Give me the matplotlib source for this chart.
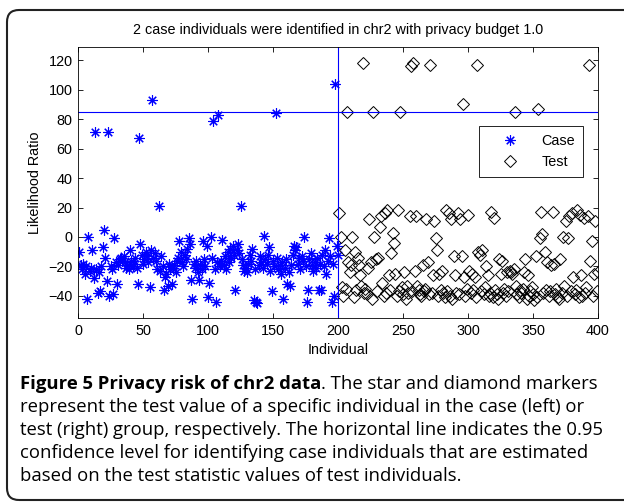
import matplotlib.pyplot as plt
from matplotlib.patches import FancyBboxPatch
from matplotlib.transforms import IdentityTransform

# likelihood ratio test values, one per individual
case_ids = list(range(1, 201))
case_lr = [
    -10, -19, -22, -18, -25, -20, -42, 0, -23, -21, -9, -28, 71, -22, -38, -24, -37, -20, -7, 5,
    -14, -30, 71, -40, -20, -22, -39, -1, -17, -32, -19, -15, -14, -16, -13, -17, -21, -19, -22, -9,
    -16, -20, -18, -14, -21, -32, 67, -5, -12, -18, -15, -10, -13, -17, -34, -9, 93, -14, -11, -16,
    -22, 21, -23, -13, -20, -36, -27, -25, -33, -18, -22, -32, -21, -19, -24, -16, -14, -3, -10, -17,
    -20, -12, -15, -8, -1, -5, -29, -42, -18, -21, -16, -24, -29, -19, -22, -3, -15, -20, -6, -41,
    -31, 0, -14, 79, -22, -44, -17, 83, -20, -16, -2, -19, -13, -22, -10, -17, -8, -14, -6, -12,
    -36, -9, -5, -11, 21, -15, -19, -23, -21, -24, -18, -12, -16, -8, -43, -22, -44, -45, -19, -13,
    -17, -21, 1, -15, -18, -12, -7, -23, -37, -16, -20, 84, -14, -22, -19, -25, -17, -42, -21, -15,
    -32, -24, -33, -19, -12, -6, -9, -7, -18, -14, -22, -13, -16, 0, -20, -44, -36, -15, -11, -19,
    -23, -17, -21, -14, -36, -18, -36, -12, -20, -9, -25, -16, -1, -13, -44, -18, -40, 104, -6, -12,
]

test_ids = list(range(201, 401))
test_lr = [
    16, 0, -34, -40, -9, -35, 85, -17, -24, -19, 0, -41, -10, -36, -14, -19, -26, -33, 118, -38,
    -35, -39, -21, 12, -17, -42, 85, 0, -15, -37, -14, 7, 14, -31, -40, 16, -38, 18, -26, -36,
    -11, 3, -4, -25, -40, 18, -37, 85, -34, -39, -24, -42, -33, -38, 14, 116, -37, 118, -23, 14,
    -33, -36, -39, -40, -19, -37, -35, 12, -17, -39, 117, -38, -26, 11, -1, -9, -40, -25, -36, -23,
    -38, -41, 18, -37, 16, -40, 12, -42, -13, -26, -38, 16, -39, 12, -13, 90, -27, -40, -35, 15,
    -23, -38, -25, -36, -27, -41, 117, -10, -12, -37, -9, -39, -34, -20, -26, -40, -38, 17, -41, 13,
    -36, -39, -42, -15, -25, -16, -38, -35, -40, -24, -37, -23, -24, -25, -22, 85, -33, -39, -41, -36,
    -38, -35, -24, -15, -42, -26, -40, -37, -34, -39, -43, -13, -41, 87, -1, 17, 2, -38, -10, -36,
    -17, -40, -37, -19, 17, -18, -39, -35, -41, -42, -15, -38, 0, -33, 11, -40, -1, 14, -37, 16,
    -27, -39, -36, 18, -41, 15, -26, -40, 13, -38, -34, 14, 117, -16, -3, -40, -25, 11, -37, -24,
]

threshold = 85.2
split_at = 200
x_ticks = [0, 50, 100, 150, 200, 250, 300, 350, 400]
y_ticks = [-40, -20, 0, 20, 40, 60, 80, 100, 120]

title = "2 case individuals were identified in chr2 with privacy budget 1.0"
caption_head = "Figure 5 Privacy risk of chr2 data"
caption_lines = [
    ". The star and diamond markers",
    "represent the test value of a specific individual in the case (left) or",
    "test (right) group, respectively. The horizontal line indicates the 0.95",
    "confidence level for identifying case individuals that are estimated",
    "based on the test statistic values of test individuals.",
]

plt.rcParams['font.family'] = ['Liberation Sans', 'DejaVu Sans']

fig = plt.figure(figsize=(6.24, 5.04), dpi=100)
ax = fig.add_axes([78 / 624, 1 - 318 / 504, 520 / 624, 271 / 504])

ax.plot(case_ids, case_lr, linestyle='none', marker=(8, 2, 0), markersize=7.5,
        markeredgewidth=0.8, color='blue', label='Case')
ax.plot(test_ids, test_lr, linestyle='none', marker='D', markersize=6.2,
        markerfacecolor='none', markeredgecolor='black', markeredgewidth=0.7, label='Test')
ax.axhline(threshold, color='blue', linewidth=0.8)
ax.axvline(split_at, color='blue', linewidth=0.8)

ax.set_xlim(0, 400)
ax.set_ylim(-55, 129)
ax.set_xticks(x_ticks)
ax.set_yticks(y_ticks)
ax.tick_params(direction='in', length=3.6, width=0.6, top=True, right=True,
               labelsize=10.4, pad=4)
for s in ax.spines.values():
    s.set_linewidth(0.6)

ax.set_xlabel('Individual', fontsize=10.4)
ax.set_ylabel('Likelihood Ratio', fontsize=10.4)
ax.xaxis.set_label_coords(0.5, -0.092)
ax.yaxis.set_label_coords(-0.07, 0.5)

leg = ax.legend(loc='upper right', bbox_to_anchor=(583 / 624, 1 - 126 / 504),
                bbox_transform=fig.transFigure, borderaxespad=0, fancybox=False,
                edgecolor='black', framealpha=1, fontsize=10.4, handlelength=3.2,
                handletextpad=0.6, borderpad=0.55, labelspacing=0.5)
leg.get_frame().set_linewidth(0.6)

fig.text(338 / 624, 1 - 30 / 504, title, ha='center', va='center', fontsize=10.4)

# rounded frame around figure and caption
frame = FancyBboxPatch((7, 4), 640, 490, boxstyle='round,pad=0,rounding_size=12',
                       transform=IdentityTransform(), facecolor='none',
                       edgecolor='#222222', linewidth=1.5)
fig.patches.append(frame)

cap_font = ['Open Sans', 'DejaVu Sans']
cap_size = 13.3
head = fig.text(20 / 624, 1 - 384 / 504, caption_head, fontsize=cap_size,
                fontweight='bold', family=cap_font, va='center', ha='left')
renderer = fig.canvas.get_renderer()
bb = head.get_window_extent(renderer)
fig.text(bb.x1 / 624, 1 - 384 / 504, caption_lines[0], fontsize=cap_size,
         family=cap_font, va='center', ha='left')
for i, line in enumerate(caption_lines[1:]):
    y = 407 + i * 23
    fig.text(20 / 624, 1 - y / 504, line, fontsize=cap_size, family=cap_font,
             va='center', ha='left')

fig.savefig('out.png', dpi=100)
